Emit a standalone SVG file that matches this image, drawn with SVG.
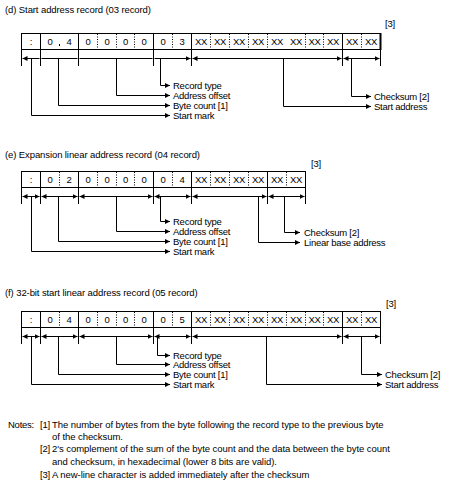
<svg xmlns="http://www.w3.org/2000/svg" width="452" height="491" viewBox="0 0 452 491">
<defs>
<marker id="ah" viewBox="0 0 5 5" refX="5" refY="2.5" markerWidth="5" markerHeight="5" markerUnits="userSpaceOnUse" orient="auto-start-reverse"><path d="M0,0 L5,2.5 L0,5 z" fill="#000"/></marker>
<style>
text{font-family:"Liberation Sans",Arial,sans-serif;font-size:9.5px;letter-spacing:-0.25px;fill:#000}
.c{text-anchor:middle}
.h{letter-spacing:-0.1px}
.n{letter-spacing:-0.06px}
.s{stroke:#000;stroke-width:1;fill:none}
.d{stroke:#000;stroke-width:1;stroke-dasharray:1 1.5;fill:none}
.a{stroke:#000;stroke-width:1;fill:none;marker-start:url(#ah);marker-end:url(#ah)}
.l{stroke:#000;stroke-width:1;fill:none;marker-end:url(#ah)}
</style>
</defs>
<rect width="452" height="491" fill="#fff"/>

<!-- (d) -->
<g id="recordD">
<text class="h" x="5" y="13">(d) Start address record (03 record)</text>
<text x="385" y="27">[3]</text>
<rect class="s" x="21.5" y="33.5" width="359" height="16"/>
<path class="s" d="M21.5,49.5V66M40.5,33.5V66M78.5,33.5V66M153.5,33.5V66M191.5,33.5V66M342.5,33.5V66M380.5,49.5V66"/>
<path d="M380.5,33V50" stroke="#000" stroke-width="2"/>
<path class="s" d="M59.5,44V46"/>
<path class="d" d="M97.5,34V49M116.5,34V49M134.5,34V49M172.5,34V49M210.5,34V49M229.5,34V49M248.5,34V49M267.5,34V49M305.5,34V49M323.5,34V49M361.5,34V49"/>
<text class="c" x="31" y="45">:</text>
<text class="c" x="50" y="45">0</text><text class="c" x="69" y="45">4</text>
<text class="c" x="88" y="45">0</text><text class="c" x="107" y="45">0</text><text class="c" x="125.5" y="45">0</text><text class="c" x="144" y="45">0</text>
<text class="c" x="163" y="45">0</text><text class="c" x="182" y="45">3</text>
<text class="c" x="201" y="45">XX</text><text class="c" x="220" y="45">XX</text><text class="c" x="239" y="45">XX</text><text class="c" x="258" y="45">XX</text><text class="c" x="277" y="45">XX</text><text class="c" x="296" y="45">XX</text><text class="c" x="314.5" y="45">XX</text><text class="c" x="333" y="45">XX</text>
<text class="c" x="352" y="45">XX</text><text class="c" x="371" y="45">XX</text>
<text x="173" y="88.5">Record type</text>
<text x="173" y="98.5">Address offset</text>
<text x="173" y="108.5">Byte count [1]</text>
<text x="173" y="118.5">Start mark</text>
<text x="374" y="100">Checksum [2]</text>
<text x="374" y="110">Start address</text>
</g>

<!-- (e) -->
<g id="recordE">
<text class="h" x="5" y="158">(e) Expansion linear address record (04 record)</text>
<text x="311" y="167">[3]</text>
<rect class="s" x="21.5" y="171.5" width="284" height="16"/>
<path class="s" d="M21.5,187.5V204M40.5,171.5V204M78.5,171.5V204M153.5,171.5V204M191.5,171.5V204M267.5,171.5V204M305.5,171.5V204"/>
<path class="d" d="M59.5,172V187M97.5,172V187M116.5,172V187M134.5,172V187M172.5,172V187M210.5,172V187M229.5,172V187M248.5,172V187M286.5,172V187"/>
<text class="c" x="31" y="183">:</text>
<text class="c" x="50" y="183">0</text><text class="c" x="69" y="183">2</text>
<text class="c" x="88" y="183">0</text><text class="c" x="107" y="183">0</text><text class="c" x="125.5" y="183">0</text><text class="c" x="144" y="183">0</text>
<text class="c" x="163" y="183">0</text><text class="c" x="182" y="183">4</text>
<text class="c" x="201" y="183">XX</text><text class="c" x="220" y="183">XX</text><text class="c" x="239" y="183">XX</text><text class="c" x="258" y="183">XX</text>
<text class="c" x="277" y="183">XX</text><text class="c" x="296" y="183">XX</text>
<text x="173" y="224.5">Record type</text>
<text x="173" y="234.5">Address offset</text>
<text x="173" y="244.5">Byte count [1]</text>
<text x="173" y="254.5">Start mark</text>
<text x="304" y="236">Checksum [2]</text>
<text x="304" y="246">Linear base address</text>
</g>

<!-- (f) -->
<g id="recordF">
<text class="h" x="5" y="296">(f) 32-bit start linear address record (05 record)</text>
<text x="386" y="307">[3]</text>
<rect class="s" x="21.5" y="311.5" width="359" height="16"/>
<path class="s" d="M21.5,327.5V344M40.5,311.5V344M78.5,311.5V344M153.5,311.5V344M191.5,311.5V344M342.5,311.5V344M380.5,311.5V344"/>
<path class="d" d="M59.5,312V327M97.5,312V327M116.5,312V327M134.5,312V327M172.5,312V327M210.5,312V327M229.5,312V327M248.5,312V327M267.5,312V327M286.5,312V327M305.5,312V327M323.5,312V327M361.5,312V327"/>
<text class="c" x="31" y="323">:</text>
<text class="c" x="50" y="323">0</text><text class="c" x="69" y="323">4</text>
<text class="c" x="88" y="323">0</text><text class="c" x="107" y="323">0</text><text class="c" x="125.5" y="323">0</text><text class="c" x="144" y="323">0</text>
<text class="c" x="163" y="323">0</text><text class="c" x="182" y="323">5</text>
<text class="c" x="201" y="323">XX</text><text class="c" x="220" y="323">XX</text><text class="c" x="239" y="323">XX</text><text class="c" x="258" y="323">XX</text><text class="c" x="277" y="323">XX</text><text class="c" x="296" y="323">XX</text><text class="c" x="314.5" y="323">XX</text><text class="c" x="333" y="323">XX</text>
<text class="c" x="352" y="323">XX</text><text class="c" x="371" y="323">XX</text>
<text x="173" y="358.5">Record type</text>
<text x="173" y="368">Address offset</text>
<text x="173" y="377.5">Byte count [1]</text>
<text x="173" y="387.5">Start mark</text>
<text x="385" y="377.5">Checksum [2]</text>
<text x="385" y="387.5">Start address</text>
</g>

<!-- connectors -->
<g id="connectors">
<path class="a" d="M22.5,58.5H39.5M41.5,58.5H77.5M79.5,58.5H152.5M154.5,58.5H190.5"/>
<path class="a" d="M192.5,58.5H341.5"/><path class="a" d="M343.5,58.5H379.5"/>
<path class="l" d="M31.5,58.5V115.5H170"/>
<path class="l" d="M58.5,58.5V105.5H170"/>
<path class="l" d="M116.5,58.5V95.5H170"/>
<path class="l" d="M160.5,58.5V85.5H170"/>
<path class="l" d="M351.5,58.5V96.5H371"/>
<path class="l" d="M283.5,58.5V106.5H371"/>

<path class="a" d="M22.5,196.5H39.5"/><path class="a" d="M41.5,196.5H77.5"/><path class="a" d="M79.5,196.5H152.5"/><path class="a" d="M154.5,196.5H190.5"/><path class="a" d="M192.5,196.5H266.5"/><path class="a" d="M268.5,196.5H304.5"/>
<path class="l" d="M31.5,196.5V251.5H170"/>
<path class="l" d="M58.5,196.5V241.5H170"/>
<path class="l" d="M116.5,196.5V231.5H170"/>
<path class="l" d="M160.5,196.5V221.5H170"/>
<path class="l" d="M284.5,196.5V232.5H300"/>
<path class="l" d="M258.5,196.5V242.5H300"/>

<path class="a" d="M22.5,336.5H39.5"/><path class="a" d="M41.5,336.5H77.5"/><path class="a" d="M79.5,336.5H152.5"/><path class="a" d="M154.5,336.5H190.5"/><path class="a" d="M192.5,336.5H341.5"/><path class="a" d="M343.5,336.5H379.5"/>
<path class="l" d="M31.5,336.5V384.5H170"/>
<path class="l" d="M58.5,336.5V374.5H170"/>
<path class="l" d="M116.5,336.5V364.5H170"/>
<path class="l" d="M157.5,336.5V355.5H170"/>
<path class="l" d="M361.5,336.5V374.5H382"/>
<path class="l" d="M266.5,336.5V384.5H382"/>
</g>

<!-- notes -->
<g id="notes">
<text x="8" y="428">Notes:</text>
<text x="40" y="428">[1]</text>
<text class="n" x="52" y="428">The number of bytes from the byte following the record type to the previous byte</text>
<text class="n" x="52" y="440">of the checksum.</text>
<text x="40" y="452">[2]</text>
<text class="n" x="52" y="452">2's complement of the sum of the byte count and the data between the byte count</text>
<text class="n" x="52" y="465">and checksum, in hexadecimal (lower 8 bits are valid).</text>
<text x="40" y="478">[3]</text>
<text class="n" x="52" y="478">A new-line character is added immediately after the checksum</text>
</g>
</svg>
